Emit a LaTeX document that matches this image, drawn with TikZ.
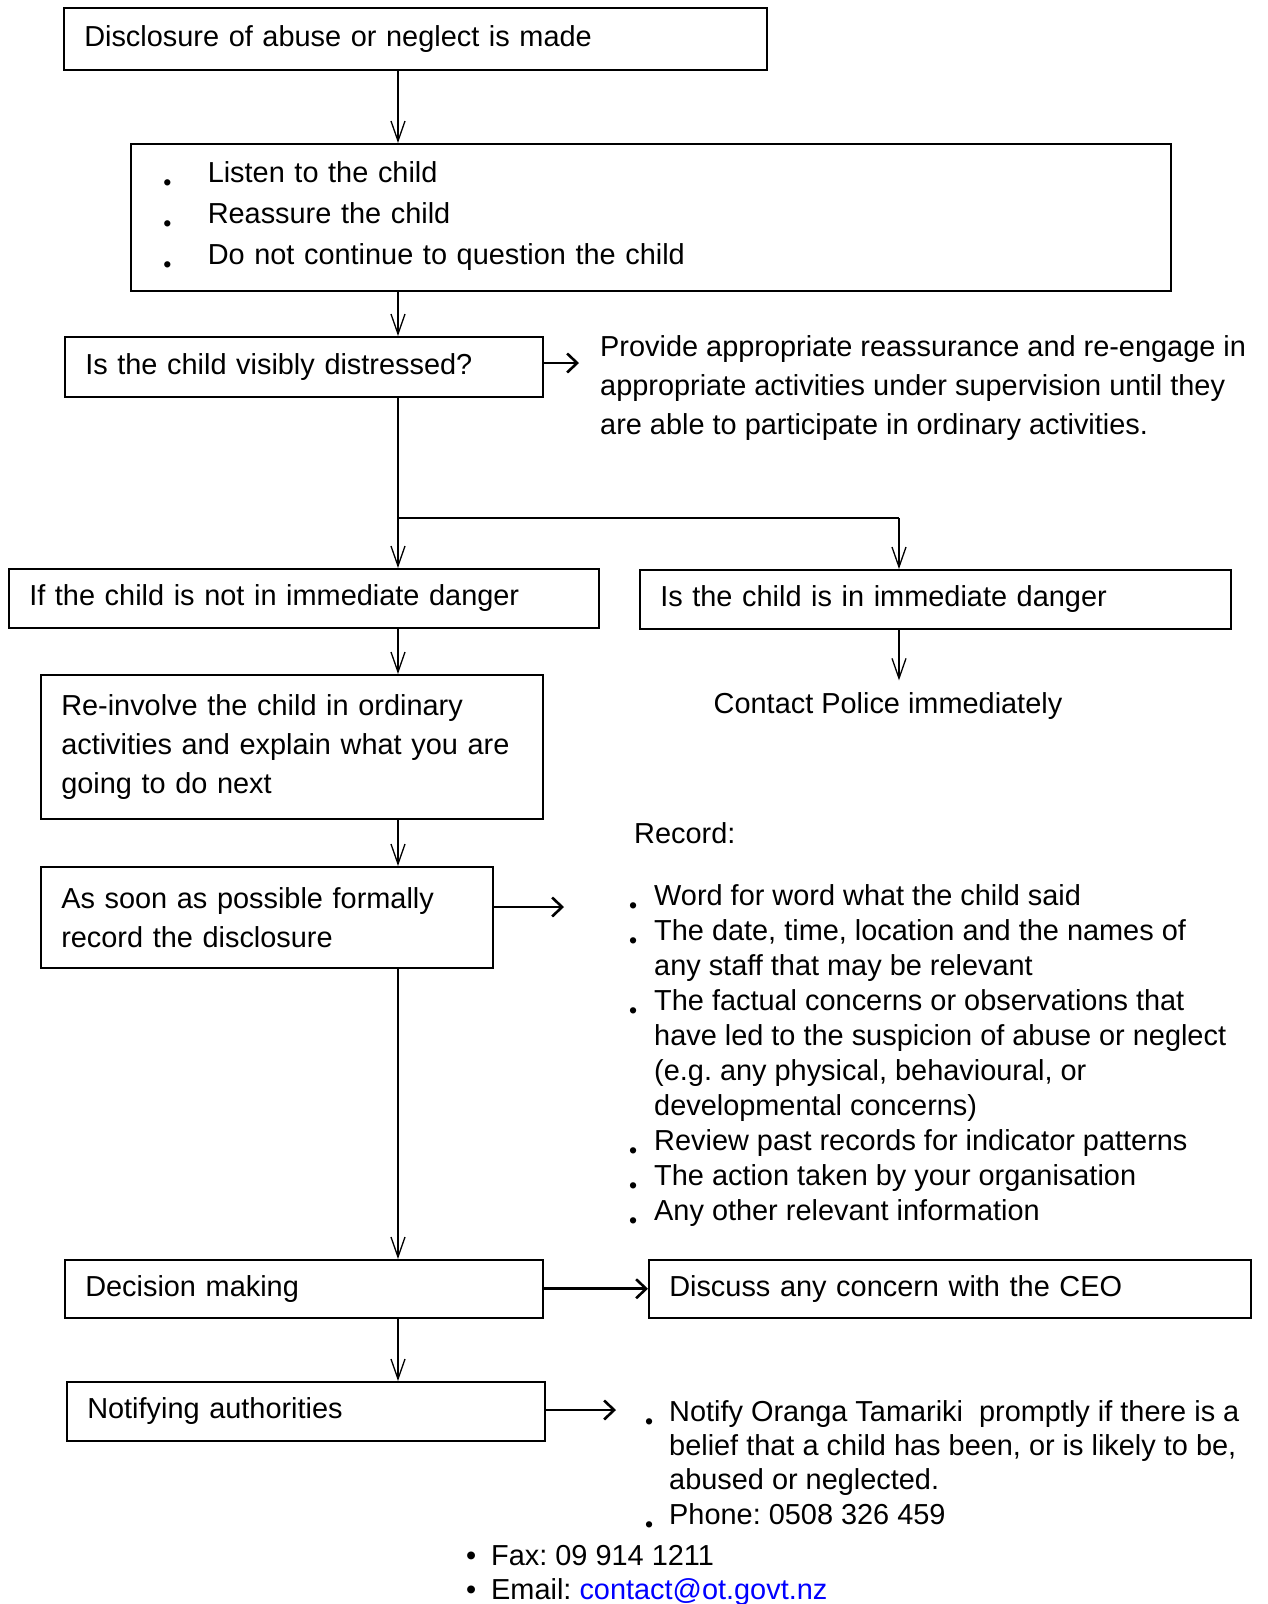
\documentclass[tikz,border=0pt]{standalone}
\usepackage{fontspec}
\setmainfont{Liberation Sans}
\usetikzlibrary{arrows.meta}
\definecolor{linkblue}{RGB}{0,0,255}
\newcommand{\lowdot}[1]{\makebox[#1][l]{\raisebox{-8.5pt}{\scalebox{0.8}{\textbullet}}}}

\begin{document}
\frenchspacing
\begin{tikzpicture}[x=1pt,y=-1pt,
    font=\fontsize{28.9}{39}\selectfont,
    box/.style={draw,line width=1.5pt,anchor=north west,align=left,inner xsep=20.5pt,inner ysep=0pt},
    freetext/.style={anchor=north west,align=left,inner sep=0pt},
    vline/.style={line width=1.3pt,-{Straight Barb[length=20pt,width=14pt]}},
    hline/.style={line width=2.6pt,-{Straight Barb[length=10pt,width=19pt]}}]
	\useasboundingbox (0,0) rectangle (1267,1604);

	\begin{scope}[every node/.style={box}]
		\node[minimum width=703pt,minimum height=62pt,text width=662pt] (disclose) at (63,7) {Disclosure of abuse or neglect is made};
		\node[minimum width=1040pt,minimum height=147pt,text width=999pt] (reassure) at (130,143) {%
			\hspace*{12pt}\lowdot{44.5pt}Listen to the child\\[2pt]
			\hspace*{12pt}\lowdot{44.5pt}Reassure the child\\[2pt]
			\hspace*{12pt}\lowdot{44.5pt}Do not continue to question the child};
		\node[minimum width=478pt,minimum height=60pt,text width=437pt] (distress) at (64,336) {Is the child visibly distressed?};
		\node[minimum width=590pt,minimum height=59pt,text width=549pt] (notdanger) at (8,568) {If the child is not in immediate danger};
		\node[minimum width=591pt,minimum height=59pt,text width=550pt] (danger) at (639,569) {Is the child is in immediate danger};
		\node[minimum width=502pt,minimum height=144pt,text width=461pt] (reinvolve) at (40,674) {Re-involve the child in ordinary\\activities and explain what you are\\going to do next};
		\node[minimum width=452pt,minimum height=101pt,text width=411pt] (formal) at (40,866) {As soon as possible formally\\record the disclosure\\[4pt]};
		\node[minimum width=478pt,minimum height=58pt,text width=437pt] (decide) at (64,1259) {Decision making};
		\node[minimum width=602pt,minimum height=58pt,text width=561pt] (discuss) at (648,1259) {Discuss any concern with the CEO};
		\node[minimum width=478pt,minimum height=59pt,text width=437pt] (notify) at (66,1381) {Notifying authorities};
	\end{scope}

	\begin{scope}[every node/.style={freetext}]
		\node (provide) at (600,335) {Provide appropriate reassurance and re-engage in\\appropriate activities under supervision until they\\are able to participate in ordinary activities.};
		\node[anchor=center] (police) at (888,706) {Contact Police immediately};
		\node (record) at (634,822) {Record:};
		\node[font=\fontsize{28.9}{35}\selectfont] (recordlist) at (629,884) {%
			\lowdot{25pt}Word for word what the child said\\
			\lowdot{25pt}The date, time, location and the names of\\
			\hspace*{25pt}any staff that may be relevant\\
			\lowdot{25pt}The factual concerns or observations that\\
			\hspace*{25pt}have led to the suspicion of abuse or neglect\\
			\hspace*{25pt}(e.g. any physical, behavioural, or\\
			\hspace*{25pt}developmental concerns)\\
			\lowdot{25pt}Review past records for indicator patterns\\
			\lowdot{25pt}The action taken by your organisation\\
			\lowdot{25pt}Any other relevant information};
		\node[font=\fontsize{28.9}{34.3}\selectfont] (notifylist) at (645,1400) {%
			\lowdot{24pt}Notify Oranga Tamariki\ \ promptly if there is a\\
			\hspace*{24pt}belief that a child has been, or is likely to be,\\
			\hspace*{24pt}abused or neglected.\\
			\lowdot{24pt}Phone: 0508 326 459};
		\node[font=\fontsize{28.9}{34}\selectfont] (contacts) at (466,1545) {%
			\makebox[25pt][l]{\textbullet}Fax: 09 914 1211\\
			\makebox[25pt][l]{\textbullet}Email: \textcolor{linkblue}{contact@ot.govt.nz}};
	\end{scope}

	\coordinate (col) at (398,0);
	\coordinate (split) at (398,518);
	\coordinate (splitend) at (899,518);
	\coordinate (providein) at (579,363);
	\coordinate (recordin) at (564,907);
	\coordinate (notifyin) at (616,1410);

	\begin{scope}
		\draw[vline] (disclose.south -| col) -- (reassure.north -| col);
		\draw[vline] (reassure.south -| col) -- (distress.north -| col);
		\draw[vline] (distress.south -| col) -- (notdanger.north -| col);
		\draw[line width=2.6pt] (split) -- (splitend);
		\draw[vline] (splitend) -- (danger.north -| splitend);
		\draw[vline,shorten >=12pt] (danger.south -| splitend) -- (police.north -| splitend);
		\draw[vline] (notdanger.south -| col) -- (reinvolve.north -| col);
		\draw[vline] (reinvolve.south -| col) -- (formal.north -| col);
		\draw[vline] (formal.south -| col) -- (decide.north -| col);
		\draw[vline] (decide.south -| col) -- (notify.north -| col);
		\draw[hline] (distress.east |- providein) -- (providein);
		\draw[hline] (formal.east |- recordin) -- (recordin);
		\draw[hline] (decide.east) -- (discuss.west);
		\draw[hline] (notify.east |- notifyin) -- (notifyin);
	\end{scope}
\end{tikzpicture}
\end{document}
